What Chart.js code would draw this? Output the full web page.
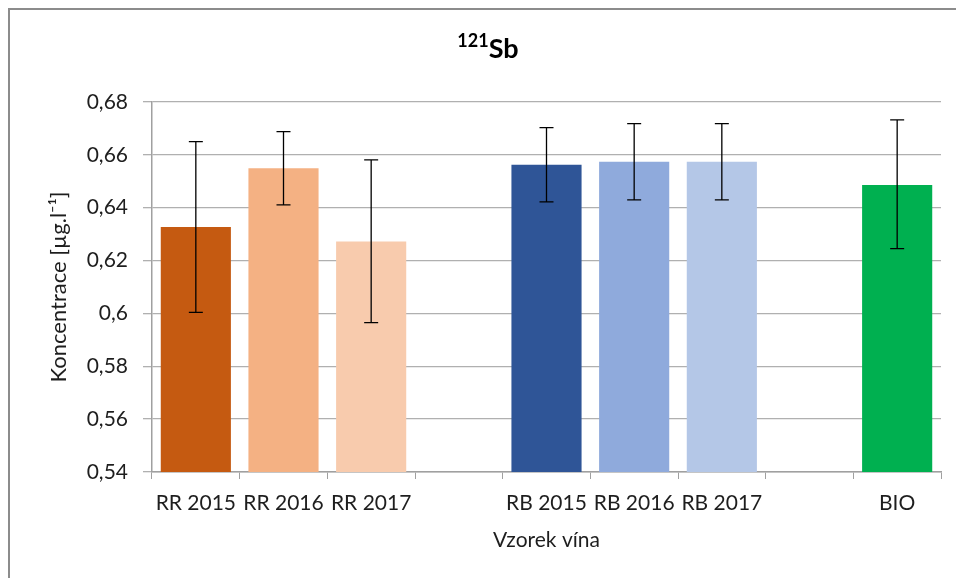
<!DOCTYPE html>
<html>
<head>
<meta charset="utf-8">
<script src="https://cdn.jsdelivr.net/npm/chart.js@4.4.1/dist/chart.umd.min.js"></script>
<style>
  html, body { margin: 0; padding: 0; background: #fff; }
  #wrap { position: relative; width: 956px; height: 578px; overflow: hidden; }
  #frame { position: absolute; left: 8px; top: 8px; width: 1200px; height: 1200px;
           border-left: 2px solid #8c8c8c; border-top: 2px solid #8c8c8c; pointer-events: none; }
  #title { position: absolute; left: 0; top: 32px; width: 976px; text-align: center;
           font-family: Lato, sans-serif; font-weight: bold; font-size: 27px; line-height: 32px; color: #000; }
  #title .sup { font-size: 18px; position: relative; top: -11px; }
  canvas { position: absolute; left: 0; top: 0; }
</style>
</head>
<body>
<div id="wrap">
  <canvas id="c" width="956" height="578"></canvas>
  <div id="frame"></div>
  <div id="title"><span class="sup">121</span>Sb</div>
</div>
<script>
const categories = ['RR 2015', 'RR 2016', 'RR 2017', '', 'RB 2015', 'RB 2016', 'RB 2017', '', 'BIO'];
const values     = [0.6327, 0.6549, 0.6272, null, 0.6563, 0.6574, 0.6574, null, 0.6486];
const errLow     = [0.6004, 0.6411, 0.5965, null, 0.6422, 0.6430, 0.6430, null, 0.6245];
const errHigh    = [0.6650, 0.6688, 0.6581, null, 0.6703, 0.6718, 0.6718, null, 0.6732];
const barColors  = ['#C55A11', '#F4B183', '#F8CBAD', '#ffffff', '#2F5597', '#8FAADC', '#B4C7E7', '#ffffff', '#00B050'];
const yTicks     = [0.54, 0.56, 0.58, 0.60, 0.62, 0.64, 0.66, 0.68];

const errorBars = {
  id: 'errorBars',
  afterDatasetsDraw(chart) {
    const ctx = chart.ctx;
    const meta = chart.getDatasetMeta(0);
    const ys = chart.scales.y;
    ctx.save();
    ctx.strokeStyle = '#000';
    ctx.lineWidth = 1.3;
    meta.data.forEach((bar, i) => {
      if (errLow[i] == null) return;
      const x = bar.x;
      const yl = ys.getPixelForValue(errLow[i]);
      const yh = ys.getPixelForValue(errHigh[i]);
      const cap = 7;
      ctx.beginPath();
      ctx.moveTo(x, yl); ctx.lineTo(x, yh);
      ctx.moveTo(x - cap, yl); ctx.lineTo(x + cap, yl);
      ctx.moveTo(x - cap, yh); ctx.lineTo(x + cap, yh);
      ctx.stroke();
    });
    ctx.restore();
  }
};

const fontFam = 'Lato, "Open Sans", sans-serif';

new Chart(document.getElementById('c'), {
  type: 'bar',
  data: {
    labels: categories,
    datasets: [{
      data: values,
      backgroundColor: barColors,
      borderWidth: 0,
      barPercentage: 0.8,
      categoryPercentage: 1.0
    }]
  },
  options: {
    responsive: false,
    animation: false,
    devicePixelRatio: 1,
    layout: { padding: { left: 10, right: 15, top: 102, bottom: 0 } },
    plugins: { legend: { display: false }, tooltip: { enabled: false }, title: { display: false } },
    scales: {
      x: {
        grid: { offset: true, drawOnChartArea: false, color: '#a0a0a0', tickLength: 7, lineWidth: 1 },
        border: { color: '#a0a0a0', width: 1.5 },
        ticks: { color: '#1e1e1e', font: { family: fontFam, size: 21 }, padding: 12, maxRotation: 0, autoSkip: false },
        title: { display: true, text: 'Vzorek vína', color: '#1e1e1e', font: { family: fontFam, size: 21 }, padding: { top: 0, bottom: 25 } },
        afterFit(scale) { scale.height = 106; }
      },
      y: {
        min: 0.54, max: 0.68,
        afterBuildTicks(scale) { scale.ticks = yTicks.map(v => ({ value: v })); },
        grid: { color: '#b0b0b0', tickLength: 9, lineWidth: 1.3 },
        border: { color: '#a0a0a0', width: 1.5 },
        ticks: {
          color: '#1e1e1e', font: { family: fontFam, size: 21 }, padding: 15,
          callback: v => Number(v.toFixed(2)).toString().replace('.', ',')
        },
        title: { display: true, text: 'Koncentrace [µg.l⁻¹]', color: '#1e1e1e', font: { family: fontFam, size: 22 }, padding: { top: 36, bottom: 0 } },
        afterFit(scale) { scale.width = 142; }
      }
    }
  },
  plugins: [errorBars]
});
</script>
</body>
</html>
